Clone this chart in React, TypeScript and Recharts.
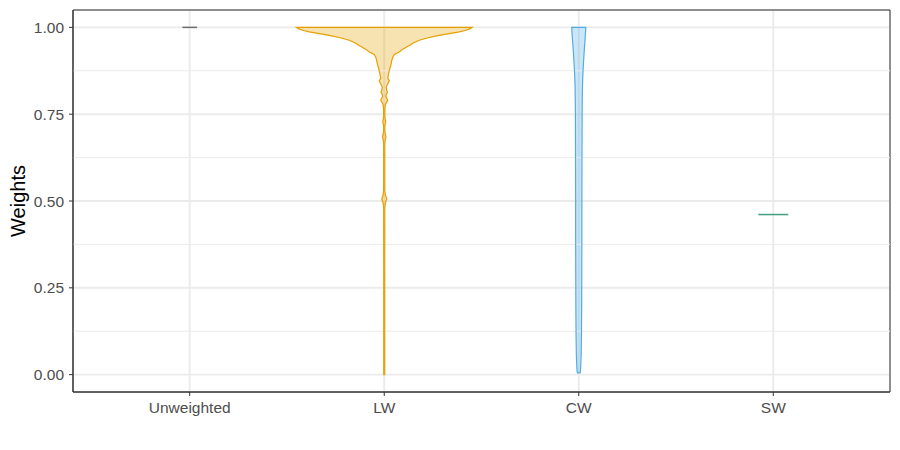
import React from 'react';
import {
  ComposedChart,
  Area,
  Line,
  XAxis,
  YAxis,
  CartesianGrid,
  ReferenceLine,
  ReferenceArea,
} from 'recharts';

// Categories on the x axis (positions 1..4)
const categories = ['Unweighted', 'LW', 'CW', 'SW'];
const categoryPositions = [1, 2, 3, 4];

// Y axis ticks (major) and minor gridlines
const yTicks = [0, 0.25, 0.5, 0.75, 1];
const yMinor = [0.125, 0.375, 0.625, 0.875];

// LW violin: weight levels and scaled density half-widths (category units)
const lwWeights = [
  0.0, 0.3, 0.48, 0.495, 0.506, 0.517, 0.53, 0.62, 0.668, 0.678, 0.685, 0.692,
  0.702, 0.715, 0.722, 0.728, 0.734, 0.745, 0.765, 0.778, 0.784, 0.79, 0.796,
  0.802, 0.808, 0.813, 0.819, 0.828, 0.836, 0.846, 0.853, 0.862, 0.876, 0.891,
  0.905, 0.915, 0.922, 0.929, 0.938, 0.948, 0.955, 0.963, 0.97, 0.977, 0.982,
  0.987, 0.991, 0.995, 0.998, 1.0,
];
const lwHalfWidth = [
  0.0025, 0.0025, 0.0028, 0.006, 0.013, 0.006, 0.003, 0.0028, 0.003, 0.006,
  0.009, 0.006, 0.003, 0.003, 0.005, 0.008, 0.005, 0.003, 0.0035, 0.006, 0.012,
  0.018, 0.013, 0.008, 0.011, 0.017, 0.013, 0.01, 0.017, 0.026, 0.018, 0.021,
  0.026, 0.034, 0.039, 0.044, 0.052, 0.077, 0.098, 0.129, 0.149, 0.18, 0.226,
  0.283, 0.334, 0.386, 0.415, 0.436, 0.447, 0.452,
];

// CW violin
const cwWeights = [
  0.005, 0.01, 0.03, 0.06, 0.12, 0.2, 0.3, 0.4, 0.5, 0.6, 0.7, 0.78, 0.83, 0.87,
  0.9, 0.94, 0.97, 0.99, 1.0,
];
const cwHalfWidth = [
  0.007, 0.0085, 0.0105, 0.0125, 0.014, 0.015, 0.0155, 0.016, 0.016, 0.0165,
  0.017, 0.0175, 0.019, 0.0215, 0.0245, 0.029, 0.033, 0.0355, 0.036,
];

// Degenerate groups (single value): Unweighted and SW
const flatGroups = ['Unweighted', 'SW'];
const flatWeights = [1.0, 0.461];
const flatHalfWidth = [0.038, 0.077];

const COLORS: Record<string, string> = {
  Unweighted: '#6E6E6E',
  LW: '#E69F00',
  CW: '#52ACE2',
  SW: '#3FA07D',
};

type Row = { [k: string]: number | number[] };

function violinRows(weights: number[], half: number[], center: number, key: string): Row[] {
  const rows: Row[] = [];
  const cap = (w: number): Row => ({
    w,
    [key + 'Fill']: [center, center],
    [key + 'L']: center,
    [key + 'R']: center,
  });
  rows.push(cap(weights[0]));
  weights.forEach((w, i) => {
    rows.push({
      w,
      [key + 'Fill']: [center - half[i], center + half[i]],
      [key + 'L']: center - half[i],
      [key + 'R']: center + half[i],
    });
  });
  rows.push(cap(weights[weights.length - 1]));
  return rows;
}

const data: Row[] = [
  ...violinRows(lwWeights, lwHalfWidth, categoryPositions[categories.indexOf('LW')], 'lw'),
  ...violinRows(cwWeights, cwHalfWidth, categoryPositions[categories.indexOf('CW')], 'cw'),
];

const FONT = '"Liberation Sans", Arial, Helvetica, sans-serif';

const YTitle = (props: any) => {
  const vb = props.viewBox || { x: 0, y: 10, width: 73, height: 382 };
  const cx = vb.x + 25;
  const cy = vb.y + vb.height / 2;
  return (
    <text
      x={cx}
      y={cy}
      transform={`rotate(-90, ${cx}, ${cy})`}
      textAnchor="middle"
      fill="#000000"
      fontSize={20}
      fontFamily={FONT}
    >
      Weights
    </text>
  );
};

export default function App() {
  return (
    <div style={{ position: 'absolute', left: 0, top: 0, width: 900, height: 450, background: '#ffffff' }}>
      <ComposedChart
        width={900}
        height={450}
        data={data}
        layout="vertical"
        margin={{ top: 10, right: 10, bottom: 0, left: 0 }}
        style={{ fontFamily: FONT }}
      >
        <CartesianGrid stroke="#EBEBEB" strokeWidth={1.9} />
        {yMinor.map((v) => (
          <ReferenceLine key={'m' + v} y={v} stroke="#EBEBEB" strokeWidth={1} />
        ))}
        <XAxis
          type="number"
          domain={[0.4, 4.6]}
          allowDataOverflow
          ticks={categoryPositions}
          tickFormatter={(v: number) => categories[categoryPositions.indexOf(v)] ?? ''}
          height={58}
          tickSize={4}
          tickMargin={6}
          stroke="#333333"
          tickLine={{ stroke: '#333333' }}
          axisLine={{ stroke: '#333333' }}
          tick={{ fill: '#4D4D4D', fontSize: 15.5, fontFamily: FONT }}
        />
        <YAxis
          type="number"
          dataKey="w"
          domain={[-0.05, 1.05]}
          allowDataOverflow
          reversed
          ticks={yTicks}
          tickFormatter={(v: number) => v.toFixed(2)}
          width={73}
          tickSize={4}
          tickMargin={5}
          stroke="#333333"
          tickLine={{ stroke: '#333333' }}
          axisLine={{ stroke: '#333333' }}
          tick={{ fill: '#4D4D4D', fontSize: 15.5, fontFamily: FONT }}
          label={<YTitle />}
        />
        <Area
          dataKey="lwFill"
          type="linear"
          stroke="none"
          fill={COLORS.LW}
          fillOpacity={0.3}
          isAnimationActive={false}
        />
        <Area
          dataKey="cwFill"
          type="linear"
          stroke="none"
          fill={COLORS.CW}
          fillOpacity={0.3}
          isAnimationActive={false}
        />
        <Line dataKey="lwL" type="linear" stroke={COLORS.LW} strokeWidth={1.2} dot={false} activeDot={false} isAnimationActive={false} />
        <Line dataKey="lwR" type="linear" stroke={COLORS.LW} strokeWidth={1.2} dot={false} activeDot={false} isAnimationActive={false} />
        <Line dataKey="cwL" type="linear" stroke={COLORS.CW} strokeWidth={1.2} dot={false} activeDot={false} isAnimationActive={false} />
        <Line dataKey="cwR" type="linear" stroke={COLORS.CW} strokeWidth={1.2} dot={false} activeDot={false} isAnimationActive={false} />
        {flatGroups.map((g, i) => {
          const pos = categoryPositions[categories.indexOf(g)];
          return (
            <ReferenceLine
              key={g}
              segment={[
                { x: pos - flatHalfWidth[i], y: flatWeights[i] },
                { x: pos + flatHalfWidth[i], y: flatWeights[i] },
              ]}
              stroke={COLORS[g]}
              strokeWidth={1.5}
              strokeOpacity={1}
            />
          );
        })}
        <ReferenceArea
          x1={0.4}
          x2={4.6}
          y1={-0.05}
          y2={1.05}
          fill="none"
          stroke="#333333"
          strokeWidth={1}
        />
      </ComposedChart>
    </div>
  );
}
